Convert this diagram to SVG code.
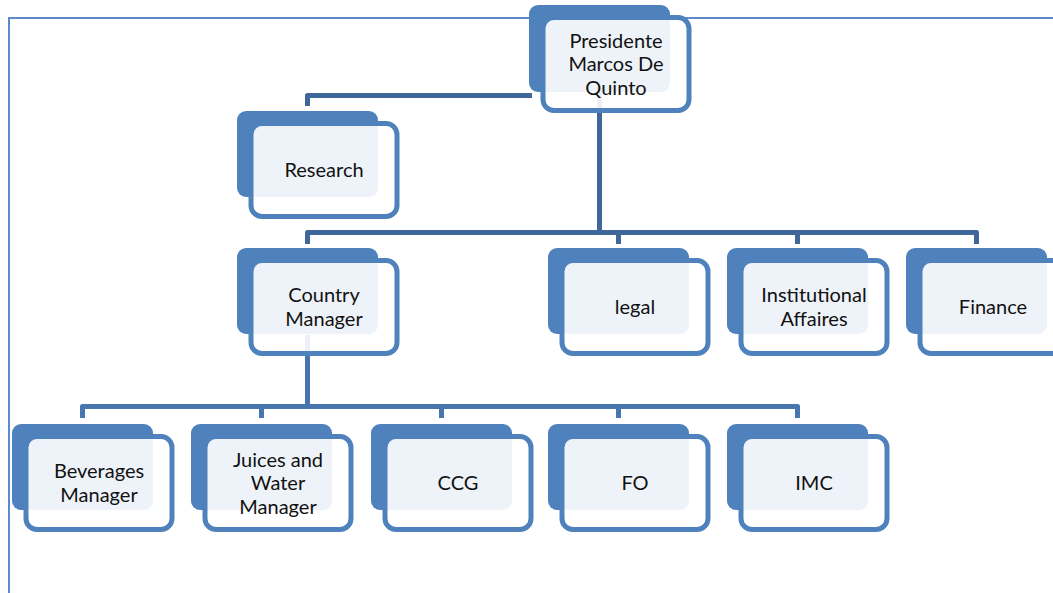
<svg xmlns="http://www.w3.org/2000/svg" width="1053" height="593" viewBox="0 0 1053 593">
<style>
.back{fill:#4F81BD}
.front{fill:#FFFFFF;fill-opacity:0.9;stroke:#4F81BD;stroke-width:5}
.t{font-family:Lato,"Liberation Sans",sans-serif;font-size:20px;fill:#111111;text-anchor:middle}
.c1{fill:none;stroke:#3F6799;stroke-width:5;stroke-linejoin:round}
.c2{fill:none;stroke:#4775AE;stroke-width:5;stroke-linejoin:round}
.frame{fill:none;stroke:#5B8BC8;stroke-width:2}
</style>
<rect width="1053" height="593" fill="#FFFFFF"/>
<path class="frame" d="M9 593 V18 H1053"/>
<g id="connectors">
<path class="c1" d="M532 95.5 H307.5 V106"/>
<path class="c1" d="M599.5 90 V232.5"/>
<path class="c1" d="M307.5 244 V232.5 H976.5 V244 M618.5 232.5 V244 M797.5 232.5 V244"/>
<path class="c2" d="M307.5 335 V406.5"/>
<path class="c2" d="M82.5 418 V406.5 H797.5 V418 M261.5 406.5 V418 M441.5 406.5 V418 M618.5 406.5 V418"/>
</g>
<g id="presidente">
<rect class="back" x="529" y="5" width="141" height="87" rx="9"/>
<rect class="front" x="543" y="17.5" width="146" height="93" rx="11"/>
<text class="t" x="616" y="47.5">Presidente</text>
<text class="t" x="616" y="71">Marcos De</text>
<text class="t" x="616" y="94.5">Quinto</text>
</g>
<g id="research">
<rect class="back" x="237" y="111" width="141" height="86" rx="9"/>
<rect class="front" x="251" y="123.5" width="146" height="93" rx="11"/>
<text class="t" x="324" y="176.5">Research</text>
</g>
<g id="country-manager">
<rect class="back" x="237" y="248" width="141" height="86" rx="9"/>
<rect class="front" x="251" y="260.5" width="146" height="93" rx="11"/>
<text class="t" x="324" y="302">Country</text>
<text class="t" x="324" y="325.5">Manager</text>
</g>
<g id="legal">
<rect class="back" x="548" y="248" width="141" height="86" rx="9"/>
<rect class="front" x="562" y="260.5" width="146" height="93" rx="11"/>
<text class="t" x="635" y="313.5">legal</text>
</g>
<g id="institutional-affaires">
<rect class="back" x="727" y="248" width="141" height="86" rx="9"/>
<rect class="front" x="741" y="260.5" width="146" height="93" rx="11"/>
<text class="t" x="814" y="302">Institutional</text>
<text class="t" x="814" y="325.5">Affaires</text>
</g>
<g id="finance">
<rect class="back" x="906" y="248" width="141" height="86" rx="9"/>
<rect class="front" x="920" y="260.5" width="146" height="93" rx="11"/>
<text class="t" x="993" y="313.5">Finance</text>
</g>
<g id="beverages-manager">
<rect class="back" x="12" y="424" width="141" height="86" rx="9"/>
<rect class="front" x="26" y="436.5" width="146" height="93" rx="11"/>
<text class="t" x="99" y="478">Beverages</text>
<text class="t" x="99" y="501.5">Manager</text>
</g>
<g id="juices-water-manager">
<rect class="back" x="191" y="424" width="141" height="86" rx="9"/>
<rect class="front" x="205" y="436.5" width="146" height="93" rx="11"/>
<text class="t" x="278" y="466.5">Juices and</text>
<text class="t" x="278" y="490">Water</text>
<text class="t" x="278" y="513.5">Manager</text>
</g>
<g id="ccg">
<rect class="back" x="371" y="424" width="141" height="86" rx="9"/>
<rect class="front" x="385" y="436.5" width="146" height="93" rx="11"/>
<text class="t" x="458" y="489.5">CCG</text>
</g>
<g id="fo">
<rect class="back" x="548" y="424" width="141" height="86" rx="9"/>
<rect class="front" x="562" y="436.5" width="146" height="93" rx="11"/>
<text class="t" x="635" y="489.5">FO</text>
</g>
<g id="imc">
<rect class="back" x="727" y="424" width="141" height="86" rx="9"/>
<rect class="front" x="741" y="436.5" width="146" height="93" rx="11"/>
<text class="t" x="814" y="489.5">IMC</text>
</g>
</svg>
